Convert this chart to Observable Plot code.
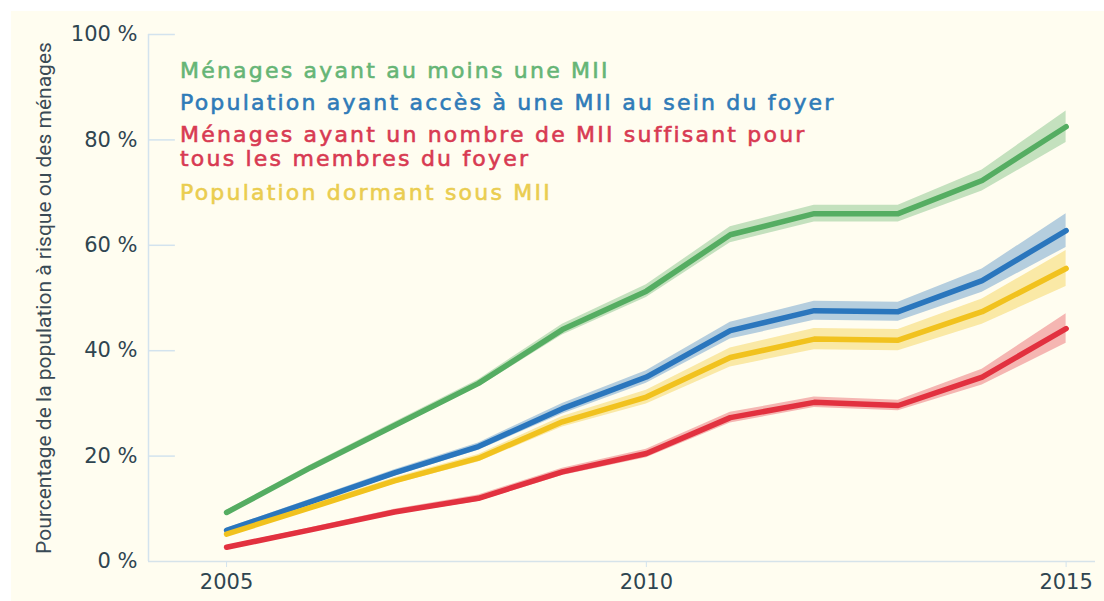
<!DOCTYPE html>
<html>
<head>
<meta charset="utf-8">
<script src="https://cdn.jsdelivr.net/npm/d3@7"></script>
<script src="https://cdn.jsdelivr.net/npm/@observablehq/plot@0.6"></script>
<style>
  html, body { margin: 0; padding: 0; background: #ffffff; }
  #wrap { position: relative; width: 1104px; height: 601px; overflow: hidden; }
  #bg { position: absolute; left: 11px; top: 11px; right: 0; bottom: 0; background: #fffdf0; }
  #chart { position: absolute; left: 0; top: 0; }
  #legend { position: absolute; left: 180px; top: 59px; font-family: "DejaVu Sans", sans-serif; font-size: 22px; letter-spacing: 2.2px; font-weight: normal; -webkit-text-stroke: 0.6px currentColor; line-height: 24px; }
  #legend div { margin-bottom: 8px; }
  #legend div:last-child { margin-top: 10px; }
</style>
</head>
<body>
<div id="wrap">
  <div id="bg"></div>
  <div id="chart"></div>
  <div id="legend"></div>
</div>
<script>
// ---- data ----
const years = [2005, 2006, 2007, 2008, 2009, 2010, 2011, 2012, 2013, 2014, 2015];

const seriesNames = [
  "Ménages ayant au moins une MII",
  "Population ayant accès à une MII au sein du foyer",
  "Ménages ayant un nombre de MII suffisant pour tous les membres du foyer",
  "Population dormant sous MII"
];
const legendLines = [
  ["Ménages ayant au moins une MII"],
  ["Population ayant accès à une MII au sein du foyer"],
  ["Ménages ayant un nombre de MII suffisant pour", "tous les membres du foyer"],
  ["Population dormant sous MII"]
];
const lineColors = ["#55ad62", "#2a76bd", "#e2313f", "#f1c21e"];
const textColors = ["#66b576", "#2f7bb8", "#d83a52", "#eacd50"];

// values (%)
const greenVals  = [9.3, 17.8, 25.8, 33.8, 44.0, 51.3, 62.0, 66.0, 66.0, 72.3, 82.5];
const blueVals   = [5.9, 11.3, 16.8, 21.8, 29.0, 35.0, 43.8, 47.6, 47.4, 53.3, 62.8];
const redVals    = [2.7, 6.0, 9.4, 12.0, 17.0, 20.5, 27.3, 30.2, 29.6, 35.0, 44.2];
const yellowVals = [5.2, 10.2, 15.3, 19.6, 26.5, 31.2, 38.7, 42.2, 42.0, 47.4, 55.6];

// half-width of the uncertainty band (%)
const greenErr  = [0.4, 0.5, 0.6, 0.7, 1.0, 1.2, 1.5, 1.6, 1.6, 2.0, 3.0];
const blueErr   = [0.4, 0.5, 0.6, 0.7, 1.0, 1.2, 1.6, 1.8, 1.8, 2.2, 3.2];
const redErr    = [0.3, 0.4, 0.5, 0.6, 0.7, 0.8, 1.0, 1.0, 1.0, 1.5, 2.8];
const yellowErr = [0.4, 0.5, 0.6, 0.7, 1.0, 1.3, 1.8, 2.0, 2.0, 2.4, 3.4];

const yTicks = [0, 20, 40, 60, 80, 100];
const xTicks = [2005, 2010, 2015];
const yLabel = "Pourcentage de la population à risque ou des ménages";

// ---- build table ----
const valueSets = [greenVals, blueVals, redVals, yellowVals];
const errSets = [greenErr, blueErr, redErr, yellowErr];
const rows = [];
seriesNames.forEach((name, s) => {
  years.forEach((yr, i) => {
    rows.push({series: name, year: yr, value: valueSets[s][i],
      lo: valueSets[s][i] - errSets[s][i], hi: valueSets[s][i] + errSets[s][i]});
  });
});
const drawOrder = [0, 1, 3, 2];

const xMin = 2004.07, xMax = 2015.35;

const marks = [
  Plot.ruleY([0], {stroke: "#d6e3ea", strokeWidth: 1.5}),
  Plot.ruleX([xMin], {y1: 0, y2: 100, stroke: "#d3e3ee", strokeWidth: 1.5}),
  Plot.ruleY(yTicks.filter(d => d > 0), {x1: xMin, x2: xMin + 0.32, stroke: "#d3e3ee", strokeWidth: 1.5}),
  Plot.axisY({ticks: yTicks, tickFormat: d => d + " %", tickSize: 0, tickPadding: 11,
    fontSize: 21, fill: "#2f4550", label: null, fontFamily: "DejaVu Sans"}),
  Plot.axisY({ticks: [], label: yLabel, labelAnchor: "center", labelArrow: "none",
    labelOffset: 112, fontSize: 21, fill: "#3a4a55", fontFamily: "Roboto"}),
  Plot.axisX({ticks: xTicks, tickFormat: d => String(d), tickSize: 6, tickPadding: 7,
    fontSize: 21, fill: "#2f4550", stroke: "#d3e3ee", label: null, fontFamily: "DejaVu Sans"})
];
drawOrder.forEach(s => {
  const data = rows.filter(r => r.series === seriesNames[s]);
  marks.push(Plot.areaY(data, {x: "year", y1: "lo", y2: "hi", fill: lineColors[s], fillOpacity: 0.35}));
});
drawOrder.forEach(s => {
  const data = rows.filter(r => r.series === seriesNames[s]);
  marks.push(Plot.line(data, {x: "year", y: "value", stroke: lineColors[s], strokeWidth: 5.5,
    strokeLinejoin: "round", strokeLinecap: "round"}));
});

const chart = Plot.plot({
  width: 1104, height: 601,
  marginLeft: 148, marginRight: 9, marginTop: 34, marginBottom: 40,
  style: {background: "transparent", fontFamily: "DejaVu Sans", color: "#2f4550"},
  x: {domain: [xMin, xMax]},
  y: {domain: [0, 100]},
  marks
});
document.getElementById("chart").appendChild(chart);

const legend = document.getElementById("legend");
legendLines.forEach((lines, s) => {
  const d = document.createElement("div");
  d.style.color = textColors[s];
  d.innerHTML = lines.join("<br>");
  legend.appendChild(d);
});
</script>
</body>
</html>
